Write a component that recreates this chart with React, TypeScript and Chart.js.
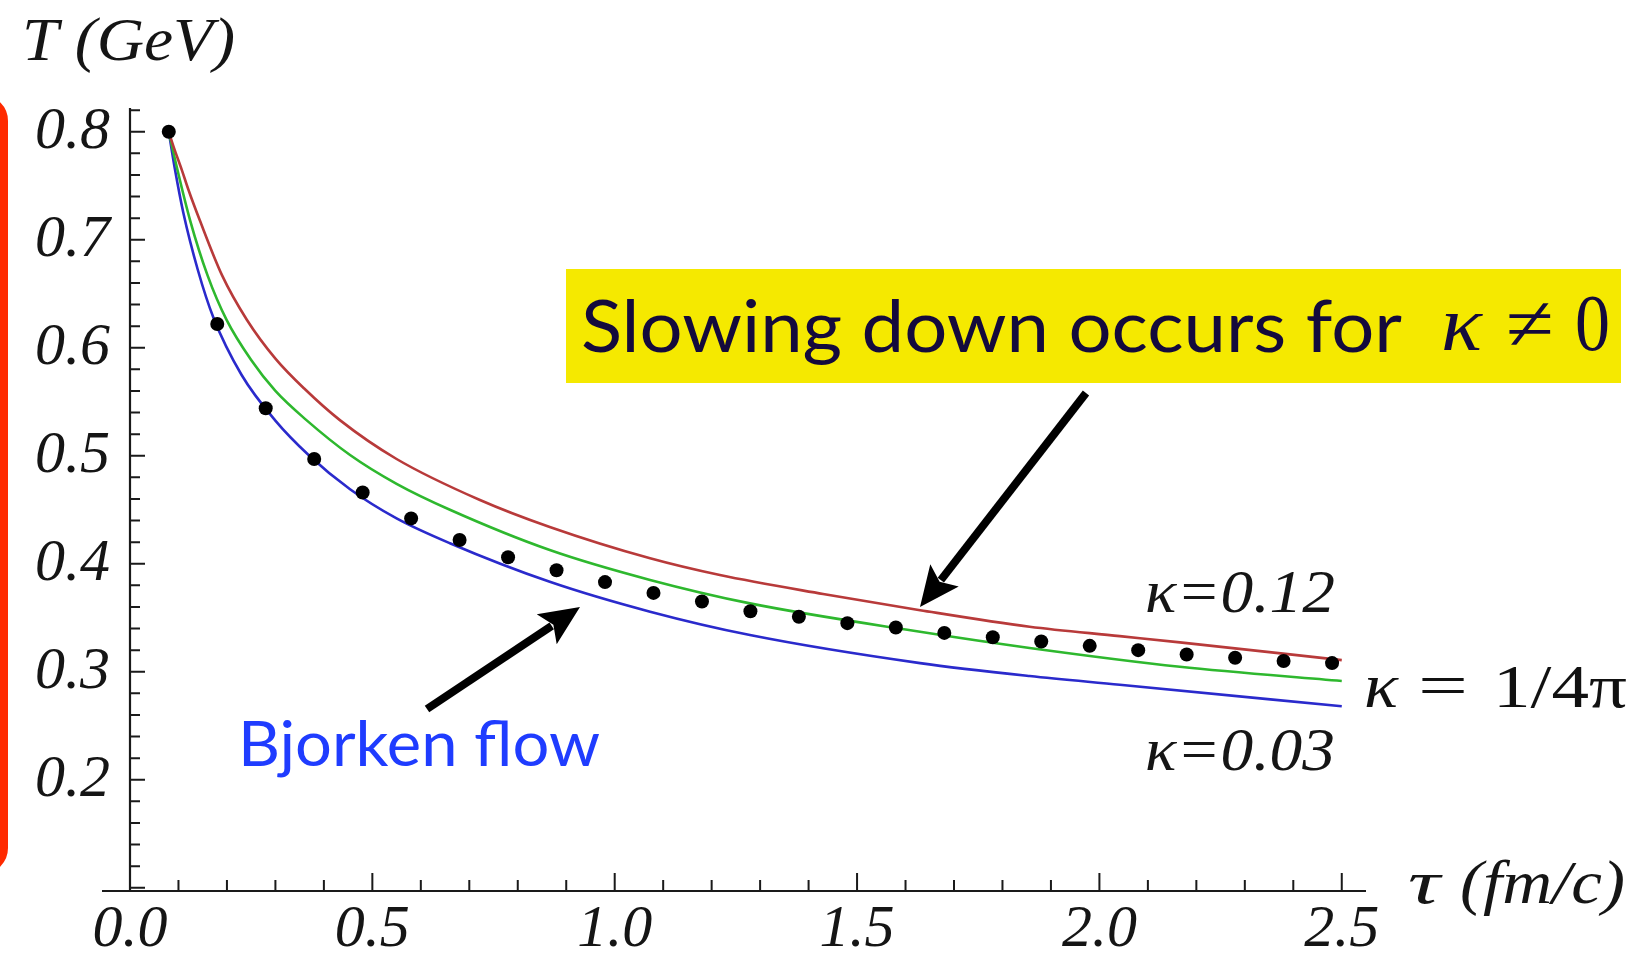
import React, { useEffect, useRef } from "react";
import { Chart, registerables } from "chart.js";

Chart.register(...registerables);

// ---- data ----
const dotTau = [0.08, 0.18, 0.28, 0.38, 0.48, 0.58, 0.68, 0.78, 0.88, 0.98, 1.08, 1.18, 1.28, 1.38, 1.48, 1.58, 1.68, 1.78, 1.88, 1.98, 2.08, 2.18, 2.28, 2.38, 2.48];
const dotT = [0.800, 0.622, 0.544, 0.497, 0.466, 0.442, 0.422, 0.406, 0.394, 0.383, 0.373, 0.365, 0.356, 0.351, 0.345, 0.341, 0.336, 0.332, 0.328, 0.324, 0.320, 0.316, 0.313, 0.310, 0.308];

const redTau = [0.08, 0.09, 0.107, 0.12, 0.144, 0.19, 0.241, 0.3, 0.36, 0.433, 0.55, 0.722, 0.866, 1.073, 1.217, 1.43, 1.63, 1.856, 2.042, 2.166, 2.5];
const redT = [0.800, 0.786, 0.7645, 0.747, 0.718, 0.667, 0.626, 0.590, 0.562, 0.533, 0.497, 0.459, 0.434, 0.405, 0.3895, 0.372, 0.357, 0.3417, 0.333, 0.3272, 0.3108];

const greenTau = [0.08, 0.098, 0.124, 0.16, 0.199, 0.25, 0.3, 0.364, 0.454, 0.55, 0.66, 0.866, 1.073, 1.279, 1.63, 1.856, 2.166, 2.5];
const greenT = [0.800, 0.7645, 0.718, 0.667, 0.626, 0.5886, 0.560, 0.533, 0.5007, 0.474, 0.450, 0.4127, 0.385, 0.3633, 0.337, 0.322, 0.3046, 0.2914];

const blueTau = [0.08, 0.093, 0.110, 0.14, 0.172, 0.23, 0.299, 0.37, 0.454, 0.55, 0.66, 0.866, 1.073, 1.279, 1.63, 1.856, 2.042, 2.5];
const blueT = [0.800, 0.7645, 0.725, 0.672, 0.628, 0.575, 0.533, 0.500, 0.469, 0.442, 0.419, 0.3833, 0.3556, 0.334, 0.308, 0.296, 0.288, 0.268];

const xTickStep = 0.5;
const yTickStep = 0.1;

const pts = (xs: number[], ys: number[]) => xs.map((x, i) => ({ x, y: ys[i] }));

const SERIF = '"Liberation Serif", "Times New Roman", serif';
const HAND = 'Lato, "Open Sans", sans-serif';

function fitText(ctx: CanvasRenderingContext2D, text: string, x: number, baseline: number, width: number, font: string, color: string) {
  ctx.save();
  ctx.font = font;
  ctx.fillStyle = color;
  ctx.textBaseline = "alphabetic";
  ctx.textAlign = "left";
  const w = ctx.measureText(text).width;
  ctx.translate(x, baseline);
  ctx.scale(width / w, 1);
  ctx.fillText(text, 0, 0);
  ctx.restore();
}

function arrow(ctx: CanvasRenderingContext2D, x0: number, y0: number, x1: number, y1: number) {
  const dx = x1 - x0, dy = y1 - y0;
  const L = Math.hypot(dx, dy);
  const ux = dx / L, uy = dy / L;
  const hl = 40, hw = 18;
  const bx = x1 - ux * hl, by = y1 - uy * hl;
  ctx.save();
  ctx.strokeStyle = "#000";
  ctx.fillStyle = "#000";
  ctx.lineWidth = 8;
  ctx.beginPath();
  ctx.moveTo(x0, y0);
  ctx.lineTo(bx + ux * 6, by + uy * 6);
  ctx.stroke();
  ctx.beginPath();
  ctx.moveTo(x1, y1);
  ctx.lineTo(bx - uy * hw, by + ux * hw);
  ctx.lineTo(bx + ux * 8, by + uy * 8);
  ctx.lineTo(bx + uy * hw, by - ux * hw);
  ctx.closePath();
  ctx.fill();
  ctx.restore();
}

const overlay = {
  id: "overlay",
  afterDraw(chart: any) {
    const ctx: CanvasRenderingContext2D = chart.ctx;
    const xs = chart.scales.x;
    const ys = chart.scales.y;
    const { left, right, top, bottom } = chart.chartArea;

    // red slide bracket
    ctx.save();
    ctx.strokeStyle = "#ff2a00";
    ctx.lineWidth = 8;
    ctx.beginPath();
    ctx.moveTo(-30, 99);
    ctx.arcTo(4, 99, 4, 870, 22);
    ctx.arcTo(4, 870, -30, 870, 22);
    ctx.lineTo(-30, 870);
    ctx.stroke();
    ctx.restore();

    // axes
    ctx.save();
    ctx.strokeStyle = "#1a1a1a";
    ctx.lineWidth = 2.2;
    ctx.beginPath();
    ctx.moveTo(102, bottom);
    ctx.lineTo(right, bottom);
    ctx.moveTo(left, top);
    ctx.lineTo(left, bottom);
    ctx.stroke();
    // ticks (inward)
    ctx.lineWidth = 2;
    ctx.beginPath();
    for (let i = 1; i <= 25; i++) {
      const v = i / 10;
      const px = xs.getPixelForValue(v);
      const len = i % 5 === 0 ? 18 : 11;
      ctx.moveTo(px, bottom);
      ctx.lineTo(px, bottom - len);
    }
    for (let k = 0; k <= 36; k++) {
      const v = 0.1 + k * 0.02;
      if (v > ys.max + 1e-9) break;
      const py = ys.getPixelForValue(v);
      const len = k % 5 === 0 ? 15 : 10;
      ctx.moveTo(left, py);
      ctx.lineTo(left + len, py);
    }
    ctx.stroke();
    ctx.restore();

    // axis titles
    fitText(ctx, "T (GeV)", 22, 60, 213, `italic 62px ${SERIF}`, "#151515");
    fitText(ctx, "τ", 1408, 903, 32, `italic 62px ${SERIF}`, "#151515");
    fitText(ctx, "(fm/c)", 1460, 903, 165, `italic 62px ${SERIF}`, "#151515");

    // yellow callout
    ctx.save();
    ctx.fillStyle = "#f5e900";
    ctx.fillRect(566, 269, 1055, 114);
    ctx.restore();
    fitText(ctx, "Slowing down occurs for", 581, 352, 821, `72px ${HAND}`, "#140a3c");
    fitText(ctx, "κ", 1441, 350, 41, `italic 78px ${SERIF}`, "#140a3c");
    fitText(ctx, "≠", 1506, 350, 48, `78px ${SERIF}`, "#140a3c");
    fitText(ctx, "0", 1575, 350, 35, `80px ${SERIF}`, "#140a3c");

    // curve labels
    fitText(ctx, "κ=0.12", 1145, 612, 190, `italic 62px ${SERIF}`, "#151515");
    fitText(ctx, "κ=0.03", 1145, 770, 190, `italic 62px ${SERIF}`, "#151515");
    fitText(ctx, "κ", 1364, 707, 34, `italic 64px ${SERIF}`, "#111");
    fitText(ctx, "=", 1418, 706, 50, `62px ${SERIF}`, "#111");
    fitText(ctx, "1/4π", 1493, 707, 134, `62px ${SERIF}`, "#111");
    fitText(ctx, "Bjorken flow", 238, 766, 362, `62px ${HAND}`, "#1f3cff");

    // arrows
    arrow(ctx, 1086, 393, 920, 607);
    arrow(ctx, 427, 709, 580, 607);
  },
};

export default function App() {
  const ref = useRef<HTMLCanvasElement | null>(null);
  useEffect(() => {
    if (!ref.current) return;
    const chart = new Chart(ref.current, {
      type: "line",
      data: {
        datasets: [
          {
            label: "data",
            data: pts(dotTau, dotT),
            showLine: false,
            pointRadius: 7,
            pointBackgroundColor: "#000",
            pointBorderWidth: 0,
            borderColor: "#000",
          },
          {
            label: "κ=0.12",
            data: pts(redTau, redT),
            borderColor: "#b83a3a",
            borderWidth: 2.6,
            pointRadius: 0,
            cubicInterpolationMode: "monotone",
            fill: false,
          },
          {
            label: "κ=1/4π",
            data: pts(greenTau, greenT),
            borderColor: "#2eb82e",
            borderWidth: 2.6,
            pointRadius: 0,
            cubicInterpolationMode: "monotone",
            fill: false,
          },
          {
            label: "κ=0.03",
            data: pts(blueTau, blueT),
            borderColor: "#2a2acc",
            borderWidth: 2.6,
            pointRadius: 0,
            cubicInterpolationMode: "monotone",
            fill: false,
          },
        ],
      },
      options: {
        animation: false,
        responsive: false,
        devicePixelRatio: 1,
        layout: { padding: { left: 0, right: 269, top: 108, bottom: 0 } },
        plugins: { legend: { display: false }, tooltip: { enabled: false } },
        scales: {
          x: {
            type: "linear",
            min: 0,
            max: 2.55,
            grid: { display: false, drawTicks: false },
            border: { display: false },
            afterFit: (s: any) => { s.height = 66; },
            ticks: {
              stepSize: xTickStep,
              includeBounds: false,
              autoSkip: false,
              maxRotation: 0,
              padding: 3,
              color: "#151515",
              font: { family: SERIF, size: 60, style: "italic" },
              callback: (v: any) => Number(v).toFixed(1),
            },
          },
          y: {
            type: "linear",
            min: 0.097,
            max: 0.822,
            grid: { display: false, drawTicks: false },
            border: { display: false },
            afterFit: (s: any) => { s.width = 130; },
            ticks: {
              stepSize: yTickStep,
              includeBounds: false,
              padding: 20,
              color: "#151515",
              font: { family: SERIF, size: 60, style: "italic" },
              callback: (v: any) => (Number(v) < 0.15 ? "" : Number(v).toFixed(1)),
            },
          },
        },
      },
      plugins: [overlay],
    });
    return () => chart.destroy();
  }, []);
  return (
    <div style={{ position: "fixed", left: 0, top: 0, width: 1635, height: 957, background: "#fff" }}>
      <canvas ref={ref} width={1635} height={957} style={{ display: "block", width: 1635, height: 957 }} />
    </div>
  );
}
